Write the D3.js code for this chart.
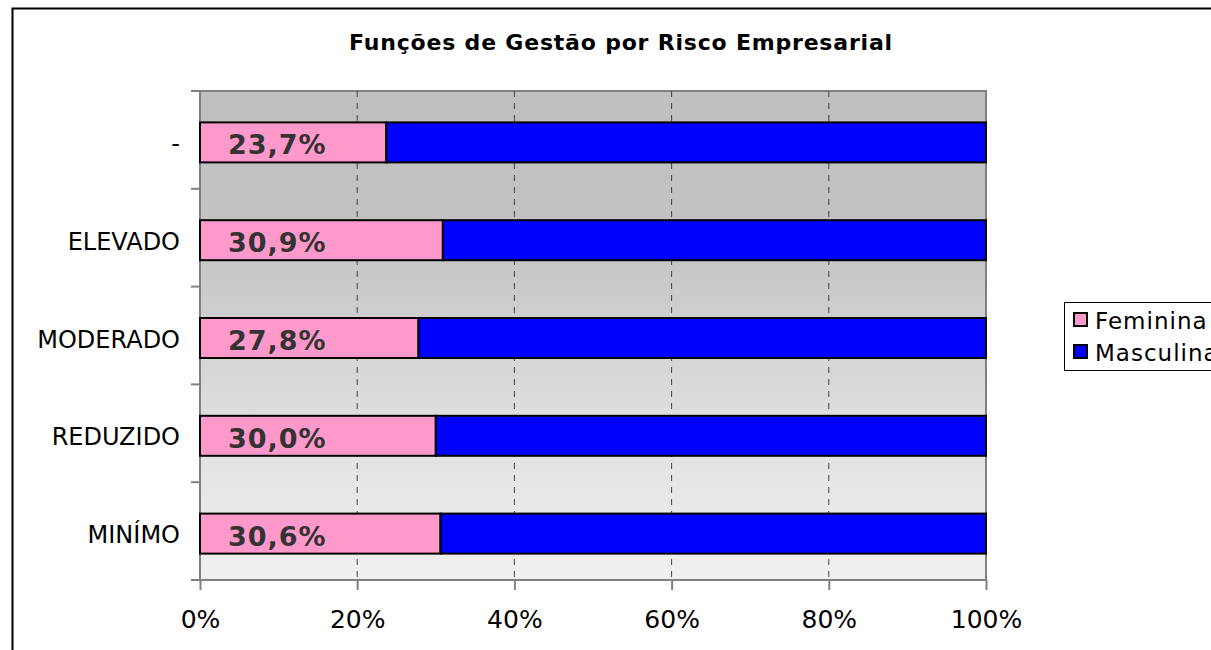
<!DOCTYPE html>
<html>
<head>
<meta charset="utf-8">
<script src="https://cdn.jsdelivr.net/npm/d3@7"></script>
<style>
  body { margin: 0; background: #fff; }
  svg { display: block; font-family: "DejaVu Sans", Verdana, sans-serif; }
</style>
</head>
<body>
<svg id="chart"></svg>
<script>
// categories top to bottom
var categories = ["-", "ELEVADO", "MODERADO", "REDUZIDO", "MINÍMO"];
var feminina = [23.7, 30.9, 27.8, 30.0, 30.6];
var masculina = [76.3, 69.1, 72.2, 70.0, 69.4];
var seriesNames = ["Feminina", "Masculina"];
var seriesColors = ["#ff99cc", "#0000ff"];
var xTicks = [0, 20, 40, 60, 80, 100];

var width = 1211, height = 650;
var plotL = 200, plotR = 986, plotT = 91, plotB = 580;

var svg = d3.select("#chart")
    .attr("width", width)
    .attr("height", height);

// chart frame
svg.append("rect")
    .attr("x", 12.5).attr("y", 8.5)
    .attr("width", 1300).attr("height", 800)
    .attr("fill", "#fff")
    .attr("stroke", "#000")
    .attr("stroke-width", 2);

svg.append("text")
    .attr("x", 621).attr("y", 50)
    .attr("text-anchor", "middle")
    .attr("font-weight", "bold")
    .attr("font-size", 22)
    .attr("letter-spacing", 0.8)
    .text("Funções de Gestão por Risco Empresarial");

var defs = svg.append("defs");
var grad = defs.append("linearGradient")
    .attr("id", "bg").attr("x1", 0).attr("y1", 0).attr("x2", 0).attr("y2", 1);
[["0%", "#c0c0c0"], ["30%", "#c3c3c3"], ["50%", "#d2d2d2"], ["70%", "#e1e1e1"], ["100%", "#f0f0f0"]]
    .forEach(function(s){
        grad.append("stop").attr("offset", s[0]).attr("stop-color", s[1]);
    });

var x = d3.scaleLinear().domain([0, 100]).range([plotL, plotR]);
var y = d3.scaleBand().domain(categories).range([plotT, plotB]).paddingInner(0);

svg.append("rect")
    .attr("x", plotL).attr("y", plotT)
    .attr("width", plotR - plotL).attr("height", plotB - plotT)
    .attr("fill", "url(#bg)")
    .attr("stroke", "#808080")
    .attr("stroke-width", 2);

// dashed gridlines
svg.selectAll(".grid")
    .data(xTicks.slice(1, -1))
    .enter().append("line")
    .attr("x1", function(d){ return x(d); })
    .attr("x2", function(d){ return x(d); })
    .attr("y1", plotT).attr("y2", plotB)
    .attr("stroke", "#404040")
    .attr("stroke-dasharray", "6,6");

// stacked bars
var rows = categories.map(function(c, i){
    return { cat: c, vals: [feminina[i], masculina[i]] };
});
var barH = 40;
rows.forEach(function(r){
    var x0 = 0;
    var cy = y(r.cat) + y.bandwidth() / 2 + 2.5;
    r.vals.forEach(function(v, j){
        svg.append("rect")
            .attr("x", x(x0)).attr("y", cy - barH / 2)
            .attr("width", x(x0 + v) - x(x0)).attr("height", barH)
            .attr("fill", seriesColors[j])
            .attr("stroke", "#000")
            .attr("stroke-width", 2);
        x0 += v;
    });
    svg.append("text")
        .attr("x", x(0) + 28).attr("y", cy + 12)
        .attr("font-weight", "bold")
        .attr("font-size", 27)
        .attr("letter-spacing", 1)
        .attr("fill", "#333333")
        .text(d3.format(".1f")(r.vals[0]).replace(".", ",") + "%");
});

// axes
var xAxis = svg.append("g")
    .attr("transform", "translate(0," + plotB + ")")
    .call(d3.axisBottom(x).tickValues(xTicks).tickSize(10).tickPadding(20)
        .tickFormat(function(d){ return d + "%"; }));
xAxis.select(".domain").remove();
xAxis.selectAll("line").attr("stroke", "#808080").attr("stroke-width", 2);
xAxis.selectAll("text").attr("font-size", 25)
    .attr("font-family", "DejaVu Sans").attr("fill", "#000");

var yAxis = svg.append("g")
    .attr("transform", "translate(" + plotL + ",0)")
    .call(d3.axisLeft(y).tickSize(0).tickPadding(20));
yAxis.select(".domain").remove();
yAxis.selectAll("text").attr("font-size", 24).attr("font-family", "DejaVu Sans").attr("fill", "#000")
    .attr("dy", "0.5em");

// category boundary ticks
svg.selectAll(".ytick")
    .data(categories.map(function(c){ return y(c); }).concat([plotB]))
    .enter().append("line")
    .attr("x1", plotL - 9).attr("x2", plotL)
    .attr("y1", function(d){ return d; }).attr("y2", function(d){ return d; })
    .attr("stroke", "#808080")
    .attr("stroke-width", 2);

// legend
var lg = svg.append("g").attr("transform", "translate(1064,302)");
lg.append("rect")
    .attr("x", 0.5).attr("y", 0.5).attr("width", 200).attr("height", 68)
    .attr("fill", "#fff").attr("stroke", "#000");
seriesNames.forEach(function(n, i){
    lg.append("rect")
        .attr("x", 10).attr("y", 11 + i * 32).attr("width", 13).attr("height", 13)
        .attr("fill", seriesColors[i]).attr("stroke", "#000").attr("stroke-width", 2);
    lg.append("text")
        .attr("x", 31).attr("y", 27 + i * 32)
        .attr("font-size", 23)
        .attr("letter-spacing", 1)
        .text(n);
});
</script>
</body>
</html>
